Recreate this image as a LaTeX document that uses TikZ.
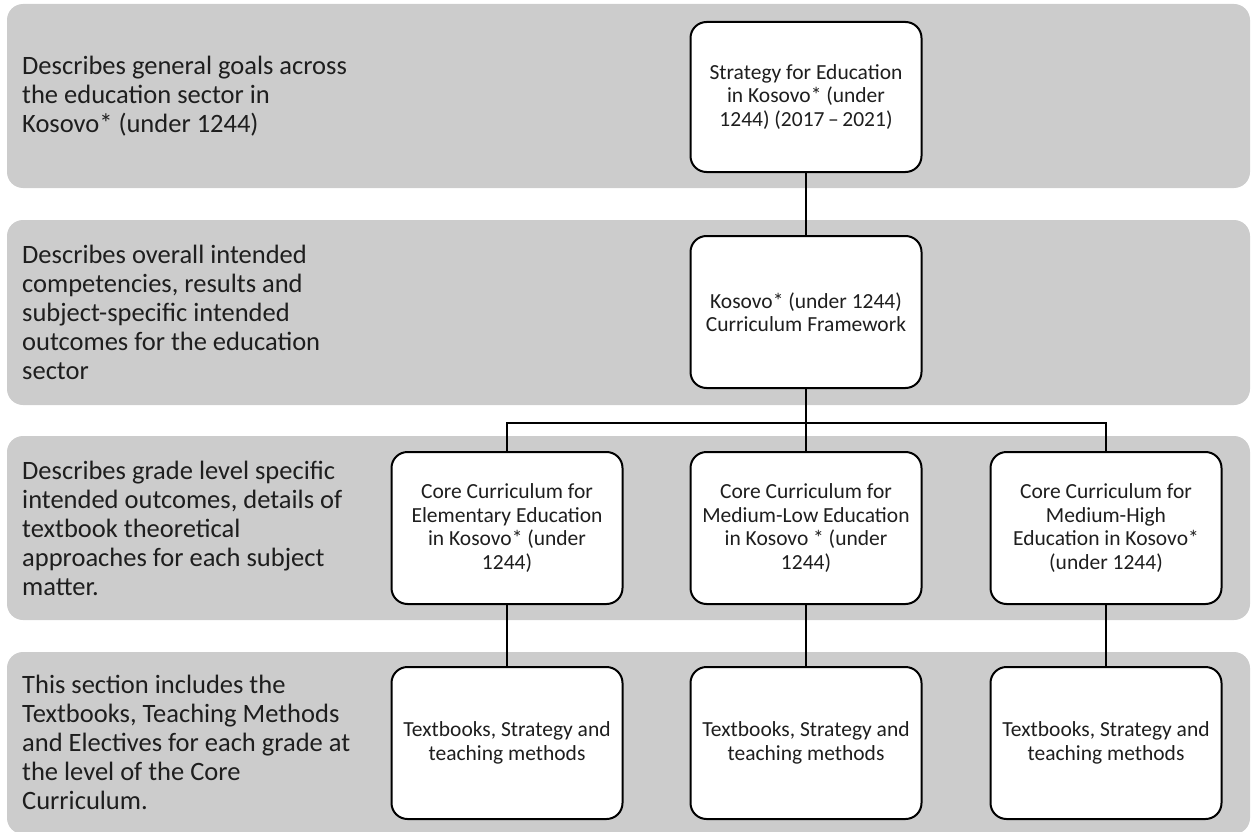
\documentclass[tikz,border=0pt]{standalone}
\usepackage{fontspec}
\setmainfont{Carlito}
\usetikzlibrary{positioning}
\definecolor{bandgray}{HTML}{CCCCCC}
\definecolor{inkgray}{HTML}{1E1E1E}

\tikzset{
  band/.style={fill=bandgray, rounded corners=16},
  levelbox/.style={draw, fill=white, line width=2, rounded corners=16, minimum width=231, minimum height=152,
    align=center, inner sep=0, text=inkgray, font=\fontsize{21.5}{23.5}\selectfont},
  levelnote/.style={anchor=west, align=left, inner sep=0, text=inkgray, font=\fontsize{26.5}{29}\selectfont},
  link/.style={line width=2}
}

\begin{document}
\begin{tikzpicture}[x=1pt,y=-1pt]
            \useasboundingbox (0,0) rectangle (1253,832);
            % grey bands
            \fill[band] (7,4) rectangle (1250,188);
            \fill[band] (7,220) rectangle (1250,405);
            \fill[band] (7,436) rectangle (1250,620);
            \fill[band] (7,652) rectangle (1250,834);
            % notes on the left
            \node[levelnote] (descGoals) at (22,96) {Describes general goals across\\the education sector in\\Kosovo* (under 1244)};
            \node[levelnote] (descFramework) at (22,312) {Describes overall intended\\competencies, results and\\subject-specific intended\\outcomes for the education\\sector};
            \node[levelnote] (descCore) at (22,528) {Describes grade level specific\\intended outcomes, details of\\textbook theoretical\\approaches for each subject\\matter.};
            \node[levelnote] (descBooks) at (22,742) {This section includes the\\Textbooks, Teaching Methods\\and Electives for each grade at\\the level of the Core\\Curriculum.};
            % documents
            \node[levelbox, minimum height=150] (strategy) at (806,97) {Strategy for Education\\in Kosovo* (under\\1244) (2017\,--\,2021)};
            \node[levelbox] (framework) at (806,312) {Kosovo* (under 1244)\\Curriculum Framework};
            \node[levelbox] (coreElem) at (507,528) {Core Curriculum for\\Elementary Education\\in Kosovo* (under\\1244)};
            \node[levelbox] (coreLow) at (806,528) {Core Curriculum for\\Medium-Low Education\\in Kosovo * (under\\1244)};
            \node[levelbox] (coreHigh) at (1106,528) {Core Curriculum for\\Medium-High\\Education in Kosovo*\\(under 1244)};
            \node[levelbox] (booksElem) at (507,743) {Textbooks, Strategy and\\teaching methods};
            \node[levelbox] (booksLow) at (806,743) {Textbooks, Strategy and\\teaching methods};
            \node[levelbox] (booksHigh) at (1106,743) {Textbooks, Strategy and\\teaching methods};
            % connectors
            \coordinate (split) at (806,423);
            \draw[link] (strategy) -- (framework);
            \draw[link] (framework) -- (coreLow);
            \draw[link] (split) -| (coreElem);
            \draw[link] (split) -| (coreHigh);
            \draw[link] (coreElem) -- (booksElem);
            \draw[link] (coreLow) -- (booksLow);
            \draw[link] (coreHigh) -- (booksHigh);
        \end{tikzpicture}
\end{document}
